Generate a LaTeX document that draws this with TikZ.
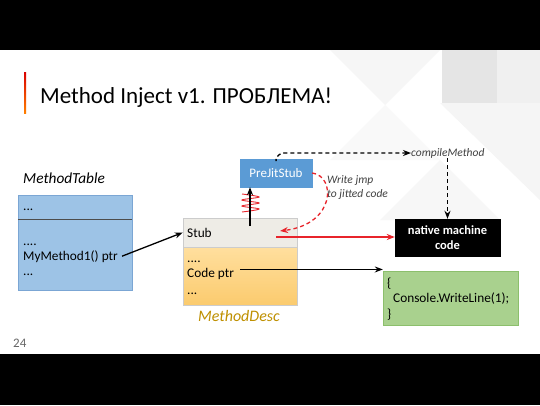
\documentclass[tikz,border=0pt]{standalone}
\usepackage{fontspec}
\setmainfont{Carlito}
\usetikzlibrary{arrows.meta,positioning}

\definecolor{tblue}{HTML}{9DC3E6}
\definecolor{tblueline}{HTML}{7BA6D4}
\definecolor{stubgray}{HTML}{EEECE6}
\definecolor{desctop}{HTML}{FFDF9E}
\definecolor{descbottom}{HTML}{FBCB6E}
\definecolor{descgold}{HTML}{BF9000}
\definecolor{pjblue}{HTML}{5B9BD5}
\definecolor{codegreen}{HTML}{A9D18E}
\definecolor{codeline}{HTML}{8CBF6C}
\definecolor{jmpred}{HTML}{E8242B}
\definecolor{notegray}{HTML}{404040}

\tikzset{
  cell/.style={draw, inner sep=0pt},
  txt/.style={anchor=base west, inner sep=0pt, font=\fontsize{13.3}{16}\selectfont},
  note/.style={inner sep=0pt, font=\fontsize{11.5}{14}\selectfont\itshape, text=notegray},
  ptr/.style={line width=1.3pt, -{Stealth[length=8pt,width=6pt]}},
  jmp/.style={line width=1.3pt, jmpred, -{Stealth[length=8pt,width=6pt]}},
  dash4/.style={dash pattern=on 4pt off 3pt},
}

\begin{document}
\begin{tikzpicture}[x=1pt,y=-1pt]
  \useasboundingbox (0,0) rectangle (540,405);
  \fill[white] (0,0) rectangle (540,405);

  % faint background tiles
  \fill[gray!7] (330,50) -- (440,50) -- (385,105) -- cycle;
  \fill[gray!20] (442,50) rectangle (497,103);
  \fill[gray!12] (497,50) -- (540,50) -- (540,103) -- (497,103) -- cycle;
  \fill[gray!8] (440,103) -- (540,103) -- (540,200) -- cycle;
  \fill[gray!5] (385,105) -- (440,160) -- (330,160) -- cycle;
  \fill[gray!6] (440,160) -- (500,220) -- (380,220) -- cycle;

  % black bands
  \fill[black] (0,0) rectangle (540,50);
  \fill[black] (0,354) rectangle (540,405);

  % title
  \shade[top color=red!85!black, bottom color=orange] (24,72) rectangle (26,113);
  \node[anchor=base west, inner sep=0pt, font=\fontsize{23}{28}\selectfont] (title)
    at (40,103) {Method Inject v1. ПРОБЛЕМА!};
  \node[anchor=base west, inner sep=0pt, text=gray!80!black, font=\fontsize{13}{15}\selectfont] (page)
    at (13,347) {24};

  % MethodTable
  \node[anchor=base west, inner sep=0pt, font=\fontsize{15.3}{18}\selectfont\itshape] (mtLabel)
    at (23,183) {MethodTable};
  \node[cell, draw=tblueline, fill=tblue, minimum width=114pt, minimum height=24pt] (mtHead) at (75,207) {};
  \node[cell, draw=tblueline, fill=tblue, minimum width=114pt, minimum height=71pt] (mtBody) at (75,254.5) {};
  \draw[gray!60!black] (mtHead.south west) -- (mtHead.south east);
  \node[txt] (mtDots) at (23,210) {...};
  \node[txt] (mtDotsA) at (23,245) {....};
  \node[txt] (mtPtr) at (23,260) {MyMethod1() ptr};
  \node[txt] (mtDotsB) at (23,275) {...};

  % MethodDesc
  \node[cell, draw=gray!40, fill=stubgray, minimum width=114pt, minimum height=29pt] (stubHead) at (240,232.5) {};
  \node[cell, draw=gray!40, top color=desctop, bottom color=descbottom,
        minimum width=114pt, minimum height=58pt] (stubBody) at (240,276) {};
  \node[txt] (stubLbl) at (187,237) {Stub};
  \node[txt] (descDots) at (187,262) {....};
  \node[txt] (codePtr) at (187,277) {Code ptr};
  \node[txt] (descDotsB) at (187,294) {...};
  \node[anchor=base, inner sep=0pt, text=descgold, font=\fontsize{16}{18}\selectfont\itshape] (mdLabel)
    at (239,321) {MethodDesc};

  % PreJitStub
  \node[cell, draw=pjblue, fill=pjblue, text=white, minimum width=72pt, minimum height=28pt,
        font=\fontsize{13}{15}\selectfont] (prejit) at (276,173) {PreJitStub};

  % native code and body
  \node[cell, fill=black, text=white, align=center, minimum width=105pt, minimum height=37pt,
        font=\fontsize{12.5}{15}\selectfont\bfseries] (native) at (447.5,237.5) {native machine\\code};
  \node[cell, draw=codeline, fill=codegreen, minimum width=135pt, minimum height=54pt] (body) at (450.5,298) {};
  \node[txt] (bodyOpen) at (387,287) {\{};
  \node[txt] (bodyCall) at (393,302) {Console.WriteLine(1);};
  \node[txt] (bodyClose) at (387,318) {\}};

  % labels
  \node[note, anchor=west] (compile) at (411,153) {compileMethod};
  \node[note, anchor=north west, align=left] (jmpNote) at (327,175) {Write jmp\\ to jitted code};

  % pointers
  \draw[ptr] (mtPtr.east) ++(4,0) coordinate (mtFrom) -- (stubHead.west);
  \draw[ptr] (codePtr.east) ++(6,-4) coordinate (codeFrom) -- (codeFrom -| body.west);

  % call into PreJitStub
  \coordinate (springBase) at (250,226);
  \draw[jmpred, line width=0.9pt] plot[smooth, tension=0.6] coordinates
    {(242,194) (259,197) (242,200) (259,203) (242,206) (259,209) (242,212)};
  \draw[ptr] (springBase) -- (springBase |- prejit.south);

  % jit path
  \draw[line width=1.3pt, dash4, rounded corners=8pt, -{Stealth[length=8pt,width=6pt]}]
    (prejit.north) |- (compile.west);
  \draw[line width=1.3pt, dash4, -{Stealth[length=8pt,width=6pt]}] (compile.south -| native.north) -- (native.north);

  % patched jump
  \coordinate (stubHook) at (276,237);
  \draw[jmp] (stubHook) -- (stubHook -| native.west);
  \coordinate (stubJmp) at (280,231);
  \draw[jmp, dash4] (prejit.east) .. controls (336,176) and (336,224) .. (stubJmp);
\end{tikzpicture}
\end{document}
